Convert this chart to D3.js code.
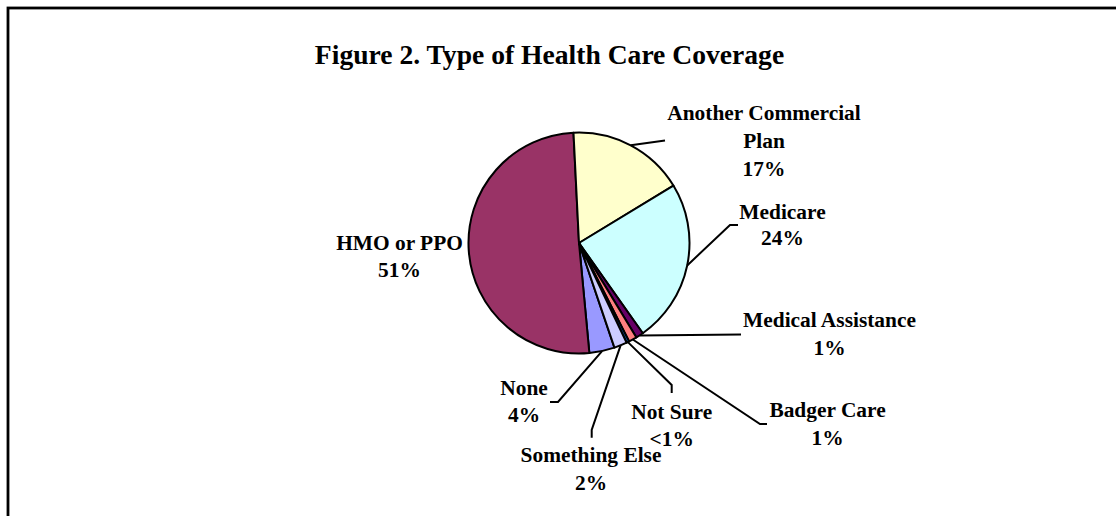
<!DOCTYPE html>
<html><head><meta charset="utf-8">
<script src="https://cdn.jsdelivr.net/npm/d3@7"></script>
<style>html,body{margin:0;padding:0;background:#fff;overflow:hidden}</style>
</head><body>
<svg id="chart" width="1116" height="516"></svg>
<script>
// ---- data ----
const categories = ["None", "HMO or PPO", "Another Commercial Plan", "Medicare",
  "Medical Assistance", "Badger Care", "Not Sure", "Something Else"];
const shares = [3.7, 50.7, 17.1, 23.9, 1.1, 1.2, 0.4, 1.9];
const colors = ["#9999FF", "#993366", "#FFFFCC", "#CCFFFF", "#660066", "#FF8080", "#0066CC", "#CCCCFF"];
const title = "Figure 2. Type of Health Care Coverage";

// ---- layout (label anchors relative to pie centre) ----
const labelLayout = {
  "None":                    {lx: -55,  ly: 152, leader: [[-21, 159], [-29, 159]], gap: 27},
  "HMO or PPO":              {lx: -179.5, ly: 7, leader: null, gap: 27},
  "Another Commercial Plan": {lx: 185,  ly: -123, leader: [[86, -102.5]], gap: 28},
  "Medicare":                {lx: 203.5, ly: -24, leader: [[151, -18], [159, -18]], gap: 25.5},
  "Medical Assistance":      {lx: 250.5, ly: 84, leader: [[162, 91.5]], gap: 28},
  "Badger Care":             {lx: 248.5, ly: 174, leader: [[181, 181], [188, 181]], gap: 27.5},
  "Not Sure":                {lx: 92.7, ly: 175.5, leader: [[92.7, 142], [92.7, 150]], gap: 27},
  "Something Else":          {lx: 12, ly: 219, leader: [[12.7, 187], [12.7, 194.7]], gap: 28}
};

const W = 1116, H = 516;
const cx = 579, cy = 243, R = 110.5;
const startDeg = 161.3;
const FONT = "'Liberation Serif','Times New Roman',serif";

const svg = d3.select("#chart");

// frame
svg.append("rect").attr("x", 8).attr("y", 8).attr("width", 1300).attr("height", 700)
  .attr("fill", "none").attr("stroke", "#000").attr("stroke-width", 2.8);

// title
svg.append("text").attr("x", 549.5).attr("y", 63.5).attr("text-anchor", "middle")
  .attr("font-family", FONT)
  .attr("font-weight", "bold").attr("font-size", 27.6).text(title);

const data = categories.map((c, i) => ({name: c, value: shares[i], color: colors[i]}));

const pie = d3.pie().sort(null).value(d => d.value)
  .startAngle(startDeg * Math.PI / 180)
  .endAngle(startDeg * Math.PI / 180 + 2 * Math.PI);
const arcs = pie(data);

const arc = d3.arc().innerRadius(0).outerRadius(R);
const edge = d3.arc().innerRadius(R).outerRadius(R);

const g = svg.append("g").attr("transform", `translate(${cx},${cy})`);

g.selectAll("path.slice").data(arcs).join("path")
  .attr("class", "slice")
  .attr("d", arc)
  .attr("fill", d => d.data.color)
  .attr("stroke", "#000").attr("stroke-width", 2)
  .attr("stroke-linejoin", "round");

// leader lines
const line = d3.line();
arcs.forEach(d => {
  const lay = labelLayout[d.data.name];
  if (!lay.leader) return;
  const p0 = edge.centroid(d);
  g.append("path").attr("d", line([p0, ...lay.leader]))
    .attr("fill", "none").attr("stroke", "#000").attr("stroke-width", 2);
});

// labels
const fmt = v => v < 1 ? "<1%" : Math.round(v) + "%";
const measure = svg.append("text").attr("font-family", FONT)
  .attr("font-weight", "bold").attr("font-size", 21.4).attr("visibility", "hidden");
function wrap(str, maxW) {
  const words = str.split(" ");
  const lines = [];
  let cur = "";
  words.forEach(w => {
    const t = cur ? cur + " " + w : w;
    measure.text(t);
    if (cur && measure.node().getComputedTextLength() > maxW) { lines.push(cur); cur = w; }
    else cur = t;
  });
  if (cur) lines.push(cur);
  return lines;
}

arcs.forEach(d => {
  const lay = labelLayout[d.data.name];
  const lines = wrap(d.data.name, 205).concat([fmt(d.data.value)]);
  const t = g.append("text").attr("text-anchor", "middle")
    .attr("font-family", FONT)
    .attr("font-weight", "bold").attr("font-size", 21.4).attr("fill", "#000");
  lines.forEach((s, i) => {
    t.append("tspan").attr("x", lay.lx).attr("y", lay.ly + i * lay.gap).text(s);
  });
});
measure.remove();
</script>
</body></html>
